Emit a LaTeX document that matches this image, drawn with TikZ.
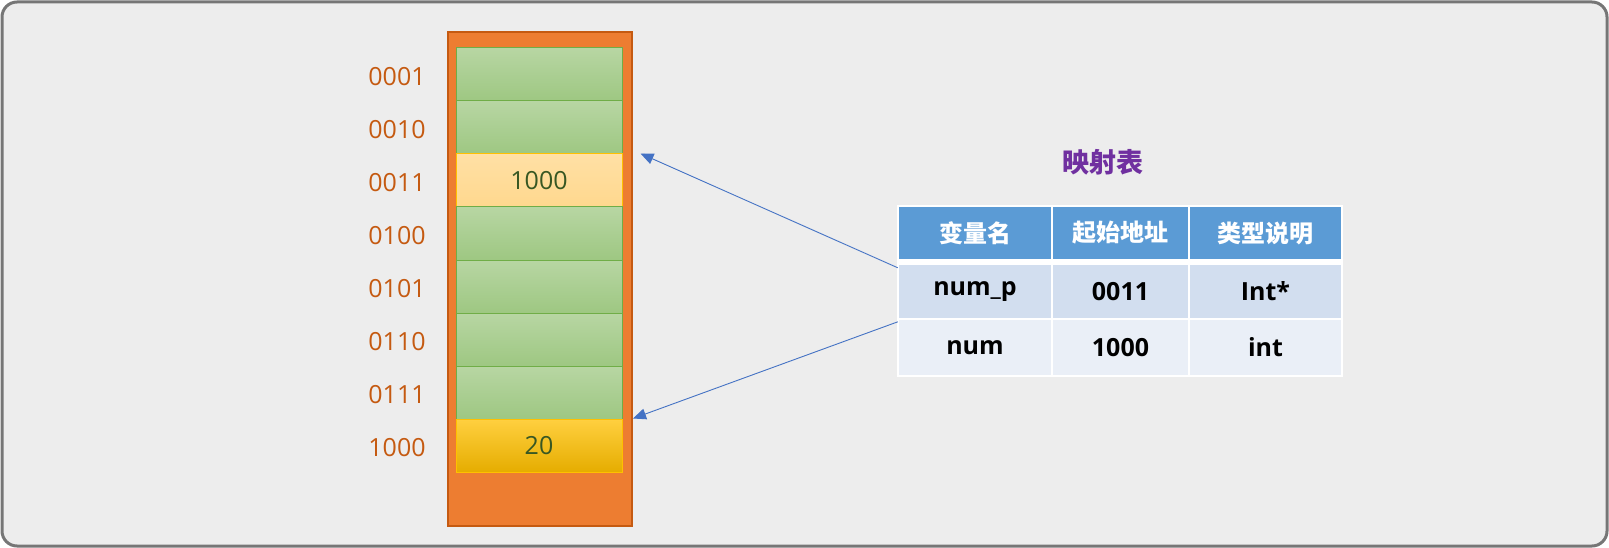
\documentclass[tikz,border=0pt]{standalone}
\usepackage{fontspec}
\setmainfont{Open Sans}
\newfontfamily\cjk{Noto Sans CJK SC}
\definecolor{framegray}{RGB}{118, 118, 118}
\definecolor{paper}{RGB}{237, 237, 237}
\definecolor{stackorange}{RGB}{237, 125, 49}
\definecolor{stackedge}{RGB}{197, 90, 17}
\definecolor{addrbrown}{RGB}{197, 90, 17}
\definecolor{cellgreen}{RGB}{112, 173, 71}
\definecolor{valgreen}{RGB}{56, 87, 35}
\definecolor{ptryellow}{RGB}{255, 192, 0}
\definecolor{ptrlight}{RGB}{255, 216, 142}
\definecolor{mapblue}{RGB}{91, 155, 213}
\definecolor{rowblue}{RGB}{210, 222, 239}
\definecolor{rowpale}{RGB}{234, 239, 247}
\definecolor{titlepurple}{RGB}{112, 48, 160}
\definecolor{arrowblue}{RGB}{68, 114, 196}
\usetikzlibrary{
    arrows.meta,
    positioning,
    calc
}

\begin{document}
\begin{tikzpicture}[x=1pt, y=-1pt,
            memcell/.style={draw=cellgreen, line width=1pt, minimum width=166pt, minimum height=53pt,
                inner sep=0pt, font=\fontsize{25}{30}\selectfont, text=valgreen},
            freecell/.style={memcell, top color=cellgreen!50!white, bottom color=cellgreen!68!white},
            ptrcell/.style={memcell, draw=ptryellow, top color=ptrlight!80!white, bottom color=ptrlight},
            datacell/.style={memcell, draw=ptryellow, top color=ptryellow!75!white, middle color=ptryellow, bottom color=ptryellow!90!black},
            addr/.style={font=\fontsize{25}{30}\selectfont, text=addrbrown, yshift=-2pt},
            tabcell/.style={minimum height=53pt, inner sep=0pt, font=\fontsize{25}{30}\selectfont\bfseries},
            headcell/.style={tabcell, minimum height=52pt, fill=mapblue, text=white, font=\fontsize{24}{28}\selectfont\cjk\bfseries},
            maparrow/.style={draw=arrowblue, line width=0.9pt, -{Triangle[length=13pt, width=11pt]}}]

            \useasboundingbox (0,0) rectangle (1609,548);
            \draw[framegray, line width=3pt, fill=paper, rounded corners=15pt] (2,2) rectangle (1607,546);

            % Memory column
            \node[draw=stackedge, line width=2pt, fill=stackorange, minimum width=184pt, minimum height=494pt,
                inner sep=0pt] (mem) at (540,279) {};
            \foreach \i/\sty/\val/\adr in {1/freecell//0001, 2/freecell//0010, 3/ptrcell/1000/0011,
                    4/freecell//0100, 5/freecell//0101, 6/freecell//0110, 7/freecell//0111, 8/datacell/20/1000} {
                \node[\sty] (cell\i) at (539, {48+53*(\i-0.5)}) {\val};
                \node[addr] (addr\i) at (397, {48+53*(\i-0.5)}) {\adr};
            }

            % Mapping table
            \node[font=\fontsize{27}{32}\selectfont\cjk\bfseries, text=titlepurple] (title) at (1103,162) {映射表};
            \fill[white] (897,205) rectangle (1343,377);
            \node[headcell, minimum width=152pt] (h1) at (975,233) {变量名};
            \node[headcell, minimum width=135pt] (h2) at (1120.5,233) {起始地址};
            \node[headcell, minimum width=151pt] (h3) at (1265.5,233) {类型说明};
            \node[tabcell, fill=rowblue, minimum width=152pt] (r1c1) at (975,291.5) {num\_p};
            \node[tabcell, fill=rowblue, minimum width=135pt] (r1c2) at (1120.5,291.5) {0011};
            \node[tabcell, fill=rowblue, minimum width=151pt] (r1c3) at (1265.5,291.5) {Int*};
            \node[tabcell, fill=rowpale, minimum width=152pt, minimum height=55pt] (r2c1) at (975,347.5) {num};
            \node[tabcell, fill=rowpale, minimum width=135pt, minimum height=55pt] (r2c2) at (1120.5,347.5) {1000};
            \node[tabcell, fill=rowpale, minimum width=151pt, minimum height=55pt] (r2c3) at (1265.5,347.5) {int};

            % Pointers
            \draw[maparrow] ($(r1c1.north west)+(-1,3)$) -- ($(cell3.north east)+(18,0)$);
            \draw[maparrow] ($(r2c1.north west)+(-1,2)$) -- (mem.east |- cell8.north);
        \end{tikzpicture}
\end{document}
